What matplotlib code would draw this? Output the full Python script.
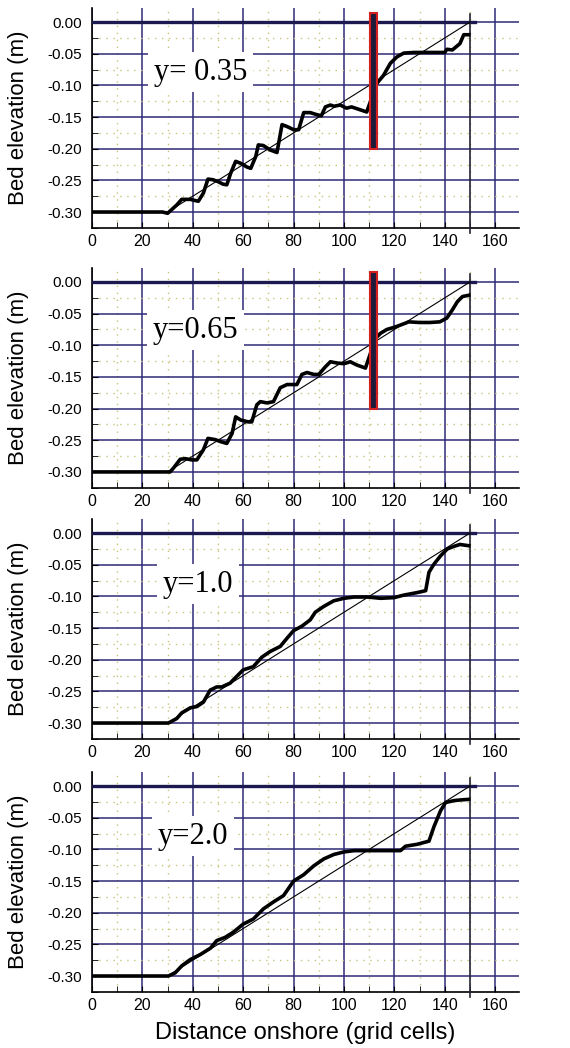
import numpy as np
import matplotlib.pyplot as plt
from matplotlib.ticker import MultipleLocator

# evolved bed profiles
x_035 = [0, 28, 30, 33.6, 35.6, 39, 40, 42.2, 44.2, 46, 48, 50, 52, 53.5, 55, 57, 59, 61.5, 63, 65, 66,
         68, 70.7, 73.4, 75.4, 77.4, 80, 82, 84, 86.6, 89, 91, 92.6, 94.6, 96, 98.5, 101, 103, 106, 109,
         113, 115.7, 118.4, 121, 123.7, 127.7, 131.7, 135.6, 140, 140.8, 143, 146, 147.5, 149.5]
z_035 = [-0.30, -0.30, -0.302, -0.289, -0.28, -0.28, -0.281, -0.283, -0.27, -0.248, -0.249, -0.252, -0.256,
         -0.257, -0.239, -0.22, -0.223, -0.229, -0.231, -0.212, -0.194, -0.195, -0.202, -0.206, -0.162, -0.165,
         -0.17, -0.17, -0.143, -0.143, -0.146, -0.148, -0.134, -0.131, -0.133, -0.131, -0.136, -0.134, -0.138,
         -0.142, -0.097, -0.084, -0.065, -0.055, -0.049, -0.048, -0.048, -0.048, -0.048, -0.043, -0.044,
         -0.034, -0.02, -0.02]

x_065 = [0, 31, 32.3, 35, 37, 39.6, 41.6, 44.2, 46, 48.9, 50.9, 53.5, 55.6, 57, 59, 62, 63.4, 65.4, 66.8,
         69.4, 72, 74.7, 77.4, 79.3, 81.3, 83.3, 85.3, 88, 90, 92.6, 94.6, 97.2, 100, 102.5, 105, 108.5,
         112.5, 114.5, 117, 120.4, 122.4, 125.7, 130, 134, 138, 140.8, 143, 145, 147, 149.5]
z_065 = [-0.30, -0.30, -0.294, -0.28, -0.279, -0.281, -0.281, -0.265, -0.247, -0.249, -0.252, -0.255,
         -0.239, -0.213, -0.218, -0.221, -0.221, -0.194, -0.189, -0.191, -0.189, -0.167, -0.162, -0.162,
         -0.162, -0.146, -0.143, -0.146, -0.146, -0.134, -0.126, -0.128, -0.129, -0.126, -0.131, -0.136,
         -0.089, -0.081, -0.075, -0.071, -0.068, -0.063, -0.064, -0.064, -0.063, -0.057, -0.044, -0.031,
         -0.023, -0.021]

x_10 = [0, 30.3, 33.6, 35.6, 39, 41.6, 44.2, 46.9, 49.5, 51.5, 54.8, 57.5, 60, 64, 67.4, 70.7, 74.7, 77.4,
        80, 83.3, 86.6, 88.6, 91.9, 95.9, 100, 104, 109.3, 114.5, 119.8, 123.7, 129, 132.4, 133.7, 135.7,
        138.3, 141, 143.6, 146, 149.5]
z_10 = [-0.30, -0.30, -0.293, -0.284, -0.276, -0.274, -0.267, -0.248, -0.243, -0.243, -0.237, -0.226,
        -0.216, -0.211, -0.196, -0.187, -0.179, -0.166, -0.154, -0.147, -0.137, -0.125, -0.116, -0.107,
        -0.103, -0.101, -0.101, -0.103, -0.102, -0.098, -0.094, -0.091, -0.062, -0.049, -0.036, -0.025,
        -0.021, -0.018, -0.02]

x_20 = [0, 30.3, 33, 35.6, 39, 43, 47, 49.5, 52.8, 56, 60, 64, 68, 72, 76, 80, 84, 88, 92, 96, 100, 104,
        109.3, 116, 122.4, 124.4, 129, 133.7, 135.7, 138.3, 140.3, 143.6, 146, 149.5]
z_20 = [-0.30, -0.30, -0.295, -0.284, -0.274, -0.266, -0.256, -0.244, -0.239, -0.231, -0.218, -0.21,
        -0.194, -0.183, -0.173, -0.15, -0.14, -0.126, -0.115, -0.108, -0.104, -0.102, -0.102, -0.102,
        -0.102, -0.095, -0.092, -0.087, -0.064, -0.039, -0.026, -0.023, -0.022, -0.021]

# initial planar slope
x_init = [30, 150]
z_init = [-0.30, 0.0]

panels = [("y= 0.35", x_035, z_035, True),
          ("y=0.65", x_065, z_065, True),
          ("y=1.0", x_10, z_10, False),
          ("y=2.0", x_20, z_20, False)]
label_pos = [(43, -0.079), (41, -0.076), (42, -0.081), (40, -0.079)]

xticks = [0, 20, 40, 60, 80, 100, 120, 140, 160]
yticks = [0.0, -0.05, -0.10, -0.15, -0.20, -0.25, -0.30]
ytick_labels = ["0.00", "-0.05", "-0.10", "-0.15", "-0.20", "-0.25", "-0.30"]

tickfont = 'Liberation Sans'
grid_c = '#2e2a78'

fig = plt.figure(figsize=(5.70, 10.48), dpi=100)
bottoms = [0.7824, 0.5344, 0.2948, 0.0534]

for (lab, xs, zs, wall), b, (tx, ty) in zip(panels, bottoms, label_pos):
    ax = fig.add_axes([0.1614, b, 0.749, 0.2099])
    ax.set_xlim(0, 169.4)
    ax.set_ylim(-0.3253, 0.0221)
    ax.set_axisbelow(True)
    ax.xaxis.set_major_locator(MultipleLocator(20))
    ax.xaxis.set_minor_locator(MultipleLocator(10))
    ax.set_yticks(yticks)
    ax.set_yticklabels(ytick_labels, family=tickfont, fontsize=11)
    ax.yaxis.set_minor_locator(MultipleLocator(0.025))
    ax.set_xticks(xticks)
    ax.set_xticklabels([str(t) for t in xticks], family=tickfont, fontsize=11.5)
    ax.grid(which='major', color=grid_c, lw=1.1)
    ax.grid(which='minor', color='#c9c47a', lw=1.0, linestyle=(0, (1, 4)))
    ax.tick_params(which='both', direction='in', length=4, color='black', pad=4)
    ax.tick_params(axis='y', pad=7)
    for s in ['top', 'right']:
        ax.spines[s].set_visible(False)
    ax.spines['left'].set_linewidth(1.2)
    ax.spines['bottom'].set_linewidth(1.2)

    # still water line and shoreline marker
    ax.plot([0, 152], [0, 0], color='#1c1850', lw=2.4, zorder=3)
    ax.plot([150, 150], [0.012, -0.333], color='#222233', lw=1.2, clip_on=False, zorder=3)

    ax.plot(x_init, z_init, color='black', lw=0.8, zorder=4)
    ax.plot(xs, zs, color='black', lw=2.6, zorder=5)

    if wall:
        ax.bar(111.7, 0.215, bottom=-0.20, width=2.8, color='#1e1a3a',
               edgecolor='#d42020', lw=1.5, zorder=6)

    ax.text(tx, ty, lab, family='Liberation Serif', fontsize=22, ha='center', va='center',
            zorder=7, bbox=dict(facecolor='white', edgecolor='none', pad=4))

    ax.set_ylabel("Bed elevation (m)", fontsize=16, family='Liberation Sans')
    ax.yaxis.set_label_coords(-0.148, 0.5)

ax.set_xlabel("Distance onshore (grid cells)", fontsize=17, family='Liberation Sans', labelpad=7)

plt.savefig("out.png", dpi=100)
